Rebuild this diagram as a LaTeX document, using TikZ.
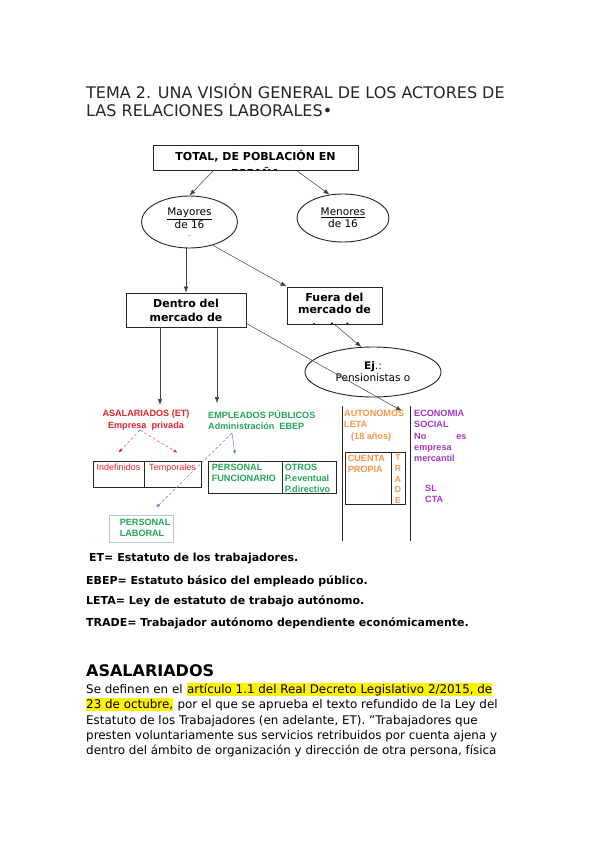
\documentclass[tikz,border=0pt]{standalone}
\usepackage{fontspec}
\setmainfont{DejaVu Sans}
\newfontfamily\arialfont{Liberation Sans}
\usetikzlibrary{shapes.geometric,arrows.meta}
\definecolor{asalred}{RGB}{226,35,45}
\definecolor{empgreen}{RGB}{35,165,85}
\definecolor{autoorange}{RGB}{245,150,70}
\definecolor{ecopurple}{RGB}{165,55,195}
\definecolor{linkblue}{RGB}{95,135,195}
\definecolor{laborframe}{RGB}{175,200,225}
\tikzset{
  box/.style={draw=black!85, line width=0.9pt, inner sep=0pt, align=center, font=\bfseries\fontsize{11}{14}\selectfont},
  oval/.style={ellipse, draw=black!85, line width=0.9pt, inner sep=0pt, align=center, font=\fontsize{10.5}{12}\selectfont},
  inbox/.style={draw=none, fill=none, inner sep=0pt, anchor=base, font=\bfseries\fontsize{11}{14}\selectfont},
  link/.style={draw=black!75, line width=0.5pt, -{Latex[length=6pt,width=4.5pt]}},
  tag/.style={inner sep=0pt, anchor=north west, align=left, font=\arialfont\bfseries\fontsize{9.1}{11.3}\selectfont},
  cellbox/.style={draw=black!85, line width=0.8pt, inner sep=0pt},
  legend/.style={inner sep=0pt, anchor=base west, font=\bfseries\fontsize{11}{13}\selectfont},
  para/.style={inner sep=0pt, anchor=base west, font=\fontsize{11.9}{15}\selectfont},
  hl/.style={para, fill=yellow, text height=10pt, text depth=3pt}
}
\begin{document}
\begin{tikzpicture}[x=1pt,y=-1pt]
  \useasboundingbox[fill=white] (0,0) rectangle (599,848);

  % title
  \node[inner sep=0pt, anchor=base west, font=\fontsize{16}{18}\selectfont, text=black!85] (title1) at (86,99) {TEMA 2. UNA VISIÓN GENERAL DE LOS ACTORES DE};
  \node[inner sep=0pt, anchor=base west, font=\fontsize{16}{18}\selectfont, text=black!85] (title2) at (86,117) {LAS RELACIONES LABORALES•};

  % upper scheme
  \node[box, minimum width=205pt, minimum height=25pt, path picture={
      \node[inbox] at ([yshift=-15pt]path picture bounding box.north) {TOTAL, DE POBLACIÓN EN};
      \node[inbox] at ([yshift=-32.5pt]path picture bounding box.north) {ESPAÑA};
    }] (total) at (255.5,157.5) {};
  \node[oval, minimum width=96pt, minimum height=52pt] (mayores) at (189.5,222) {\underline{Mayores}\\de 16\\[-4pt]{\tiny ..}};
  \node[oval, minimum width=92pt, minimum height=48pt] (menores) at (343,218) {\underline{Menores}\\de 16};
  \node[box, minimum width=120pt, minimum height=34pt] (dentro) at (186,310) {Dentro del\\mercado de};
  \node[box, minimum width=95pt, minimum height=37pt, path picture={
      \node[inbox] at ([yshift=-14pt]path picture bounding box.north) {Fuera del};
      \node[inbox] at ([yshift=-26pt]path picture bounding box.north) {mercado de};
      \node[inbox] at ([yshift=-44.5pt]path picture bounding box.north) {trabajo};
    }] (fuera) at (334.5,305.5) {};
  \node[oval, minimum width=136pt, minimum height=50pt] (ej) at (373,372) {\textbf{Ej}.:\\Pensionistas o};

  \coordinate (asaltip) at (160,405);
  \coordinate (emptip) at (217,403);
  \coordinate (autotip) at (402,411);

  \draw[link] ([xshift=-42pt]total.south) -- (mayores.north);
  \draw[link] ([xshift=41pt]total.south) -- (menores.120);
  \draw[link] (dentro.north |- mayores.south) -- (dentro.north);
  \draw[link] (mayores.-45) -- (fuera.north west);
  \draw[link] (fuera.south) -- (ej.115);
  \draw[link] ([yshift=4pt]dentro.south east) -- (autotip);
  \draw[link] (dentro.south -| asaltip) -- (asaltip);
  \draw[link] (dentro.south -| emptip) -- (emptip);

  % lower scheme
  \node[tag, anchor=north, align=center, text=asalred] (asal) at (146,410) {ASALARIADOS (ET)\\Empresa\ \ privada};
  \node[tag, text=empgreen] (emppub) at (208,410) {EMPLEADOS PÚBLICOS\\Administración\ \ EBEP};
  \coordinate (empfork) at (232,433);

  \node[cellbox, minimum width=51pt, minimum height=26pt] (indef) at (118.5,474) {};
  \node[cellbox, minimum width=57pt, minimum height=26pt] (temp) at (172.5,474) {};
  \node[tag, anchor=north, text=asalred, font=\arialfont\fontsize{9}{11.3}\selectfont] (indeftxt) at ([yshift=-3pt]indef.north) {Indefinidos};
  \node[tag, anchor=north, text=asalred, font=\arialfont\fontsize{9}{11.3}\selectfont] (temptxt) at ([yshift=-3pt]temp.north) {Temporales};

  \node[cellbox, minimum width=74pt, minimum height=32pt] (func) at (245,477) {};
  \node[cellbox, minimum width=54pt, minimum height=32pt] (otros) at (309,477) {};
  \node[tag, text=empgreen] (functxt) at ([xshift=4pt,yshift=-3pt]func.north west) {PERSONAL\\FUNCIONARIO};
  \node[tag, text=empgreen] (otrostxt) at ([xshift=3pt,yshift=-3pt]otros.north west) {OTROS\\P.eventual\\P.directivo};

  \node[cellbox, draw=laborframe, minimum width=64pt, minimum height=27pt] (laboral) at (141,528.5) {};
  \node[tag, text=empgreen] (laboraltxt) at ([xshift=11pt,yshift=-4pt]laboral.north west) {PERSONAL\\LABORAL};

  \draw[asalred, line width=0.4pt, densely dashed, -{Latex[length=4pt,width=3pt]}] ([xshift=-6pt]asal.south) -- ([yshift=8pt]indef.north);
  \draw[asalred, line width=0.4pt, densely dashed, -{Latex[length=4pt,width=3pt]}] ([xshift=-6pt]asal.south) -- ([xshift=5pt,yshift=8pt]temp.north);
  \draw[linkblue, line width=0.5pt, -{Latex[length=4pt,width=3pt]}] (empfork) -- ([xshift=-10pt,yshift=6pt]func.north);
  \draw[linkblue, line width=0.5pt, densely dashed, -{Latex[length=4pt,width=3pt]}] (empfork) -- ([xshift=15pt,yshift=7pt]laboral.north);

  \draw[black!85, line width=0.8pt] (342,406) -- (342,541);
  \draw[black!85, line width=0.8pt] (410,406) -- (410,541);

  \node[tag, text=autoorange] (auto) at (344,410) {AUTONOMOS\\LETA\\\hspace{7pt}(18 años)};
  \node[cellbox, minimum width=46pt, minimum height=52pt] (cuenta) at (368,478) {};
  \node[cellbox, minimum width=14pt, minimum height=52pt] (trade) at (398,478) {};
  \node[tag, text=autoorange] (cuentatxt) at ([xshift=3pt,yshift=-3pt]cuenta.north west) {CUENTA\\PROPIA};
  \node[tag, anchor=north, align=center, text=autoorange, font=\arialfont\bfseries\fontsize{8.6}{10.9}\selectfont] (tradetxt) at ([yshift=-2.5pt]trade.north) {T\\R\\A\\D\\E};

  \node[tag, text=ecopurple] (ecosoc) at (414,410) {ECONOMIA\\SOCIAL\\No\hspace{30pt}es\\empresa\\mercantil};
  \node[tag, text=ecopurple] (slcta) at (425,485) {SL\\CTA};

  % legend
  \node[legend] (lg1) at (89,561) {ET= Estatuto de los trabajadores.};
  \node[legend] (lg2) at (86,584) {EBEP= Estatuto básico del empleado público.};
  \node[legend] (lg3) at (86,604) {LETA= Ley de estatuto de trabajo autónomo.};
  \node[legend] (lg4) at (86,626) {TRADE= Trabajador autónomo dependiente económicamente.};

  % text
  \node[inner sep=0pt, anchor=base west, font=\bfseries\fontsize{16}{18}\selectfont] (head) at (86,676) {ASALARIADOS};
  \node[para] (p1a) at (86,693) {Se definen en el};
  \node[hl] (p1b) at ([xshift=4pt]p1a.base east) {artículo 1.1 del Real Decreto Legislativo 2/2015, de};
  \node[hl] (p2a) at (86,708) {23 de octubre,};
  \node[para] (p2b) at ([xshift=4pt]p2a.base east) {por el que se aprueba el texto refundido de la Ley del};
  \node[para] (p3) at (86,724) {Estatuto de los Trabajadores (en adelante, ET). "Trabajadores que};
  \node[para] (p4) at (86,739) {presten voluntariamente sus servicios retribuidos por cuenta ajena y};
  \node[para] (p5) at (86,754) {dentro del ámbito de organización y dirección de otra persona, física};
\end{tikzpicture}
\end{document}
